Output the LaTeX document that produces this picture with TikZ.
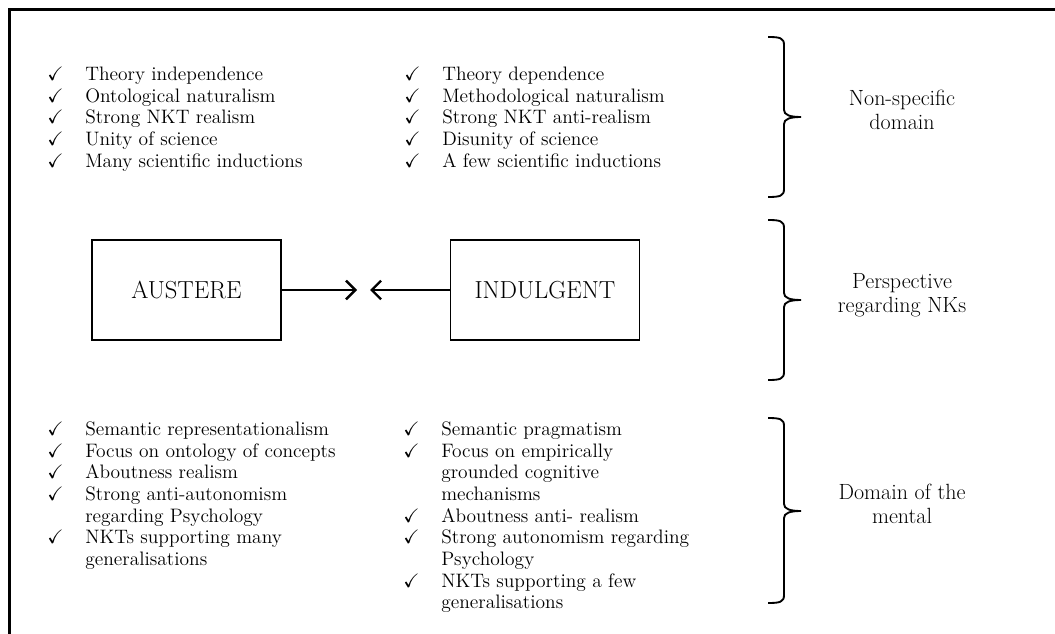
\documentclass[tikz,border=0pt]{standalone}
\usepackage{amsmath,amssymb}
\usepackage{tikz}
\usetikzlibrary{positioning,arrows.meta}
\newcommand{\ck}{\makebox[28.5pt][l]{$\checkmark$}}
\newcommand{\nock}{\hspace*{28.5pt}}
% #1 top, #2 tip, #3 bottom (pixel rows)
\newcommand{\sidebrace}[3]{%
  \draw[bracket] (768,#1) .. controls (780,#1) and (784,{#1+1}) .. (784,{#1+8})
    -- (784,{#2-7}) .. controls (784,{#2-2}) and (790,#2) .. (801,#2)
    .. controls (790,#2) and (784,{#2+2}) .. (784,{#2+7})
    -- (784,{#3-8}) .. controls (784,{#3-1}) and (780,#3) .. (768,#3);}

\begin{document}
\begin{tikzpicture}[x=0.75pt,y=-0.75pt,
  kind/.style={draw,line width=1.1pt,minimum width=141.75pt,minimum height=75pt,
    font=\fontsize{18.5}{22}\selectfont},
  items/.style={inner sep=0pt,anchor=north west,font=\fontsize{14.6}{16.25}\selectfont},
  domainlabel/.style={align=center,font=\fontsize{16.5}{18}\selectfont},
  bracket/.style={line width=1.4pt},
  pointer/.style={-{Straight Barb[length=7pt,width=14pt]},line width=1.8pt}]
  \clip (0,0) rectangle (1055,634);
  \draw[line width=2.25pt] (9.5,10) rectangle (1090,670);

  \node[items] (austgen) at (47,65) {\begin{tabular}{@{}l@{}}
    \ck Theory independence\\
    \ck Ontological naturalism\\
    \ck Strong NKT realism\\
    \ck Unity of science\\
    \ck Many scientific inductions
  \end{tabular}};
  \node[items] (indgen) at (404,65) {\begin{tabular}{@{}l@{}}
    \ck Theory dependence\\
    \ck Methodological naturalism\\
    \ck Strong NKT anti-realism\\
    \ck Disunity of science\\
    \ck A few scientific inductions
  \end{tabular}};

  \node[kind] (austere) at (186.5,290) {AUSTERE};
  \node[kind] (indulgent) [right=126pt of austere] {INDULGENT};
  \coordinate (austtip) at (357,290);
  \coordinate (indtip) at (370,290);
  \draw[pointer] (austere) -- (austtip);
  \draw[pointer] (indulgent) -- (indtip);

  \node[items] (austmind) at (47,420) {\begin{tabular}{@{}l@{}}
    \ck Semantic representationalism\\
    \ck Focus on ontology of concepts\\
    \ck Aboutness realism\\
    \ck Strong anti-autonomism\\
    \nock regarding Psychology\\
    \ck NKTs supporting many\\
    \nock generalisations
  \end{tabular}};
  \node[items] (indmind) at (403,420) {\begin{tabular}{@{}l@{}}
    \ck Semantic pragmatism\\
    \ck Focus on empirically\\
    \nock grounded cognitive\\
    \nock mechanisms\\
    \ck Aboutness anti- realism\\
    \ck Strong autonomism regarding\\
    \nock Psychology\\
    \ck NKTs supporting a few\\
    \nock generalisations
  \end{tabular}};

  \sidebrace{37}{117}{197}
  \sidebrace{220}{300}{380}
  \sidebrace{418}{511}{603}
  \node[domainlabel] (general) at (902,110) {Non-specific\\domain};
  \node[domainlabel] (perspective) at (902,295) {Perspective\\regarding NKs};
  \node[domainlabel] (mental) at (902,504) {Domain of the\\mental};
\end{tikzpicture}
\end{document}
